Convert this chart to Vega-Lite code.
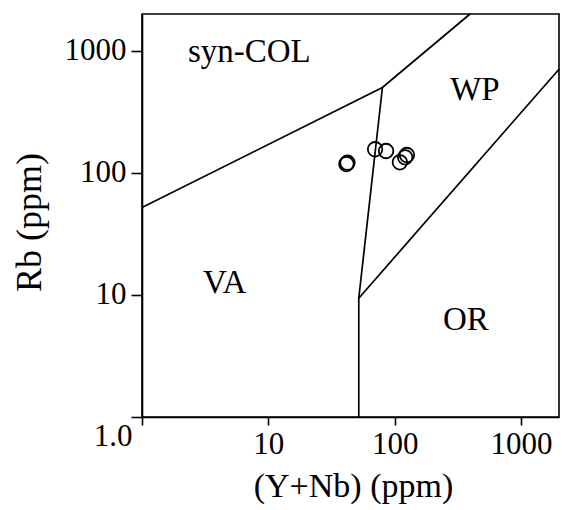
{
  "$schema": "https://vega.github.io/schema/vega-lite/v6.json",
  "width": 417,
  "height": 403,
  "autosize": {"type": "none"},
  "padding": {"left": 142, "top": 14, "right": 3, "bottom": 93},
  "background": "white",
  "config": {"view": {"stroke": "black", "strokeWidth": 1.6}, "font": "Liberation Serif"},
  "encoding": {
    "x": {
      "field": "x", "type": "quantitative",
      "scale": {"type": "log", "domain": [1, 2000], "nice": false},
      "axis": {
        "values": [1, 10, 100, 1000],
        "labelExpr": "datum.value == 1 ? '' : format(datum.value, 'd')",
        "title": "(Y+Nb) (ppm)",
        "grid": false, "labelFlush": false,
        "tickSize": 8, "tickWidth": 1.6, "tickColor": "black",
        "domainColor": "black", "domainWidth": 1.6,
        "labelFont": "Liberation Serif", "labelFontSize": 31, "labelColor": "black", "labelPadding": 4,
        "titleFont": "Liberation Serif", "titleFontSize": 34, "titleFontWeight": "normal", "titleColor": "black",
        "titleX": 211, "titleY": 79, "titleBaseline": "alphabetic", "titleAlign": "center"
      }
    },
    "y": {
      "field": "y", "type": "quantitative",
      "scale": {"type": "log", "domain": [1, 2000], "nice": false},
      "axis": {
        "values": [1, 10, 100, 1000],
        "labelExpr": "datum.value == 1 ? '1.0' : format(datum.value, 'd')",
        "title": "Rb (ppm)",
        "grid": false, "labelFlush": false,
        "tickSize": 11, "tickWidth": 1.6, "tickColor": "black",
        "domainColor": "black", "domainWidth": 1.6,
        "labelFont": "Liberation Serif", "labelFontSize": 31, "labelColor": "black",
        "labelPadding": {"condition": {"test": "datum.value == 1", "value": -1}, "value": 5},
        "labelBaseline": {"condition": {"test": "datum.value == 1", "value": "top"}, "value": "middle"},
        "labelOffset": {"condition": {"test": "datum.value == 1", "value": 4}, "value": 0},
        "titleFont": "Liberation Serif", "titleFontSize": 36, "titleFontWeight": "normal", "titleColor": "black",
        "titleX": -102, "titleY": 208, "titleBaseline": "alphabetic", "titleAlign": "center", "titleAngle": 270
      }
    }
  },
  "layer": [
    {
      "data": {"values": [
        {"seg": "a", "ord": 1, "x": 1, "y": 52},
        {"seg": "a", "ord": 2, "x": 80, "y": 500},
        {"seg": "a", "ord": 3, "x": 395, "y": 2000},
        {"seg": "b", "ord": 1, "x": 80, "y": 500},
        {"seg": "b", "ord": 2, "x": 52, "y": 9.4},
        {"seg": "b", "ord": 3, "x": 52, "y": 1},
        {"seg": "c", "ord": 1, "x": 52, "y": 9.4},
        {"seg": "c", "ord": 2, "x": 2000, "y": 706}
      ]},
      "mark": {"type": "line", "color": "black", "strokeWidth": 1.7},
      "encoding": {"detail": {"field": "seg"}, "order": {"field": "ord"}}
    },
    {
      "data": {"values": [
        {"x": 41.5, "y": 118},
        {"x": 42.3, "y": 121},
        {"x": 70, "y": 156},
        {"x": 85.5, "y": 151},
        {"x": 110, "y": 122},
        {"x": 121, "y": 134},
        {"x": 125, "y": 140}
      ]},
      "mark": {"type": "point", "shape": "circle", "filled": false, "color": "black", "size": 210, "strokeWidth": 1.8, "opacity": 1}
    },
    {
      "data": {"values": [
        {"label": "syn-COL", "x": 2.31, "y": 808},
        {"label": "VA", "x": 3.04, "y": 10.36},
        {"label": "WP", "x": 275, "y": 395},
        {"label": "OR", "x": 241.6, "y": 5.16}
      ]},
      "mark": {"type": "text", "align": "left", "baseline": "alphabetic", "fontSize": 33, "font": "Liberation Serif", "color": "black"},
      "encoding": {"text": {"field": "label"}}
    }
  ]
}
